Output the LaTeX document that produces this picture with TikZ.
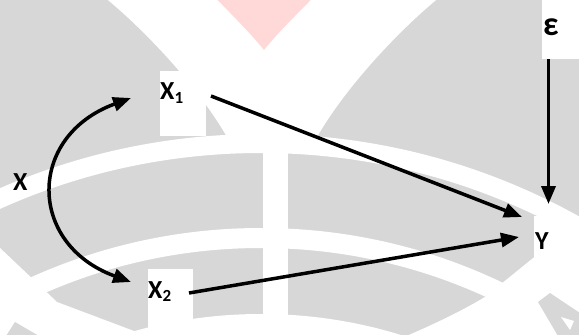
\documentclass[tikz,border=0pt]{standalone}
\usepackage{fontspec}
\setmainfont{Carlito}
\usetikzlibrary{arrows.meta,calc}
\definecolor{wmgray}{RGB}{215,215,215}
\definecolor{wmpink}{RGB}{255,216,216}
\begin{document}
\begin{tikzpicture}[x=1pt,y=-1pt,
  >={Triangle[length=18pt,width=14pt]},
  lbl/.style={inner sep=0pt, anchor=base west, font=\bfseries\fontsize{26}{30}\selectfont},
  arr/.style={line width=3.5pt, ->},
  panel/.style={fill=white}]
\useasboundingbox (0,0) rectangle (579,335);

% faint emblem in the background
\begin{scope}
  \clip (0,0) rectangle (579,335);
  \fill[wmgray] (0,0) rectangle (579,335);
  % gap between the two upper lobes
  \fill[white] (106.7,-1) .. controls (150,35) and (200,90) .. (227,137)
     -- (317,137) .. controls (344,90) and (394,35) .. (437.3,-1) -- cycle;
  % concentric white rings
  \fill[white, even odd rule] (261,788) circle[radius=654] (261,788) circle[radius=635];
  \fill[white, even odd rule] (261,788) circle[radius=560] (261,788) circle[radius=540];
  \fill[white] (261,788) circle[radius=474];
  % vertical stripe
  \fill[white] (263,130) rectangle (288,336);
  % cut-off sides
  \fill[white] (-1,247) -- (57,302) -- (150,337) -- (-1,337) -- cycle;
  \fill[white] (580,220) -- (485,297) .. controls (460,312) and (430,326) .. (404,337)
     -- (580,337) -- cycle;
  % fragments of the lower ring and lettering
  \fill[wmgray] (6,336) -- (15,322) -- (39,336) -- cycle;
  \fill[wmgray] (538,302) -- (550,293) -- (580,313) -- (580,336) -- (558,336) -- cycle;
  \fill[white] (561,317) -- (570,330) -- (574,321) -- cycle;
  % red triangle at the top
  \fill[wmpink] (216.7,-1) .. controls (235,18) and (252,35) .. (264,50)
     .. controls (276,35) and (293,18) .. (311.7,-1) -- cycle;
\end{scope}

% white panels behind the labels
\fill[panel] (160,71) rectangle (206,136);
\fill[panel] (148,269) rectangle (193,336);
\fill[panel] (534,216) rectangle (580,262);
\fill[panel] (542,-1) rectangle (580,59);

% labels
\node[lbl] (x)  at (13,190) {X};
\node[lbl] (x1) at (160,99) {X\raisebox{-4pt}{\fontsize{17}{17}\selectfont 1}};
\node[lbl] (x2) at (148,298) {X\raisebox{-3pt}{\fontsize{17}{17}\selectfont 2}};
\node[lbl] (y)  at (535,249) {Y};
\node[lbl, font=\bfseries\fontsize{34}{38}\selectfont] (eps) at (543,35) {ε};

% connectors
\draw[arr] ($(x1.base west)+(51,-3)$) -- ($(y.base west)+(-13,-32)$);
\draw[arr] ($(x2.base west)+(41,-5)$) -- ($(y.base west)+(-16,-12)$);
\draw[arr] ($(eps.base west)+(5.5,24)$) -- ($(y.base west)+(13.5,-45)$);
\draw[line width=3.5pt, <->] ($(x1.base west)+(-29,-1)$)
   .. controls ($(x1.base west)+(-133,37)$) and ($(x2.base west)+(-121,-54)$)
   .. ($(x2.base west)+(-17,-16)$);
\end{tikzpicture}
\end{document}
